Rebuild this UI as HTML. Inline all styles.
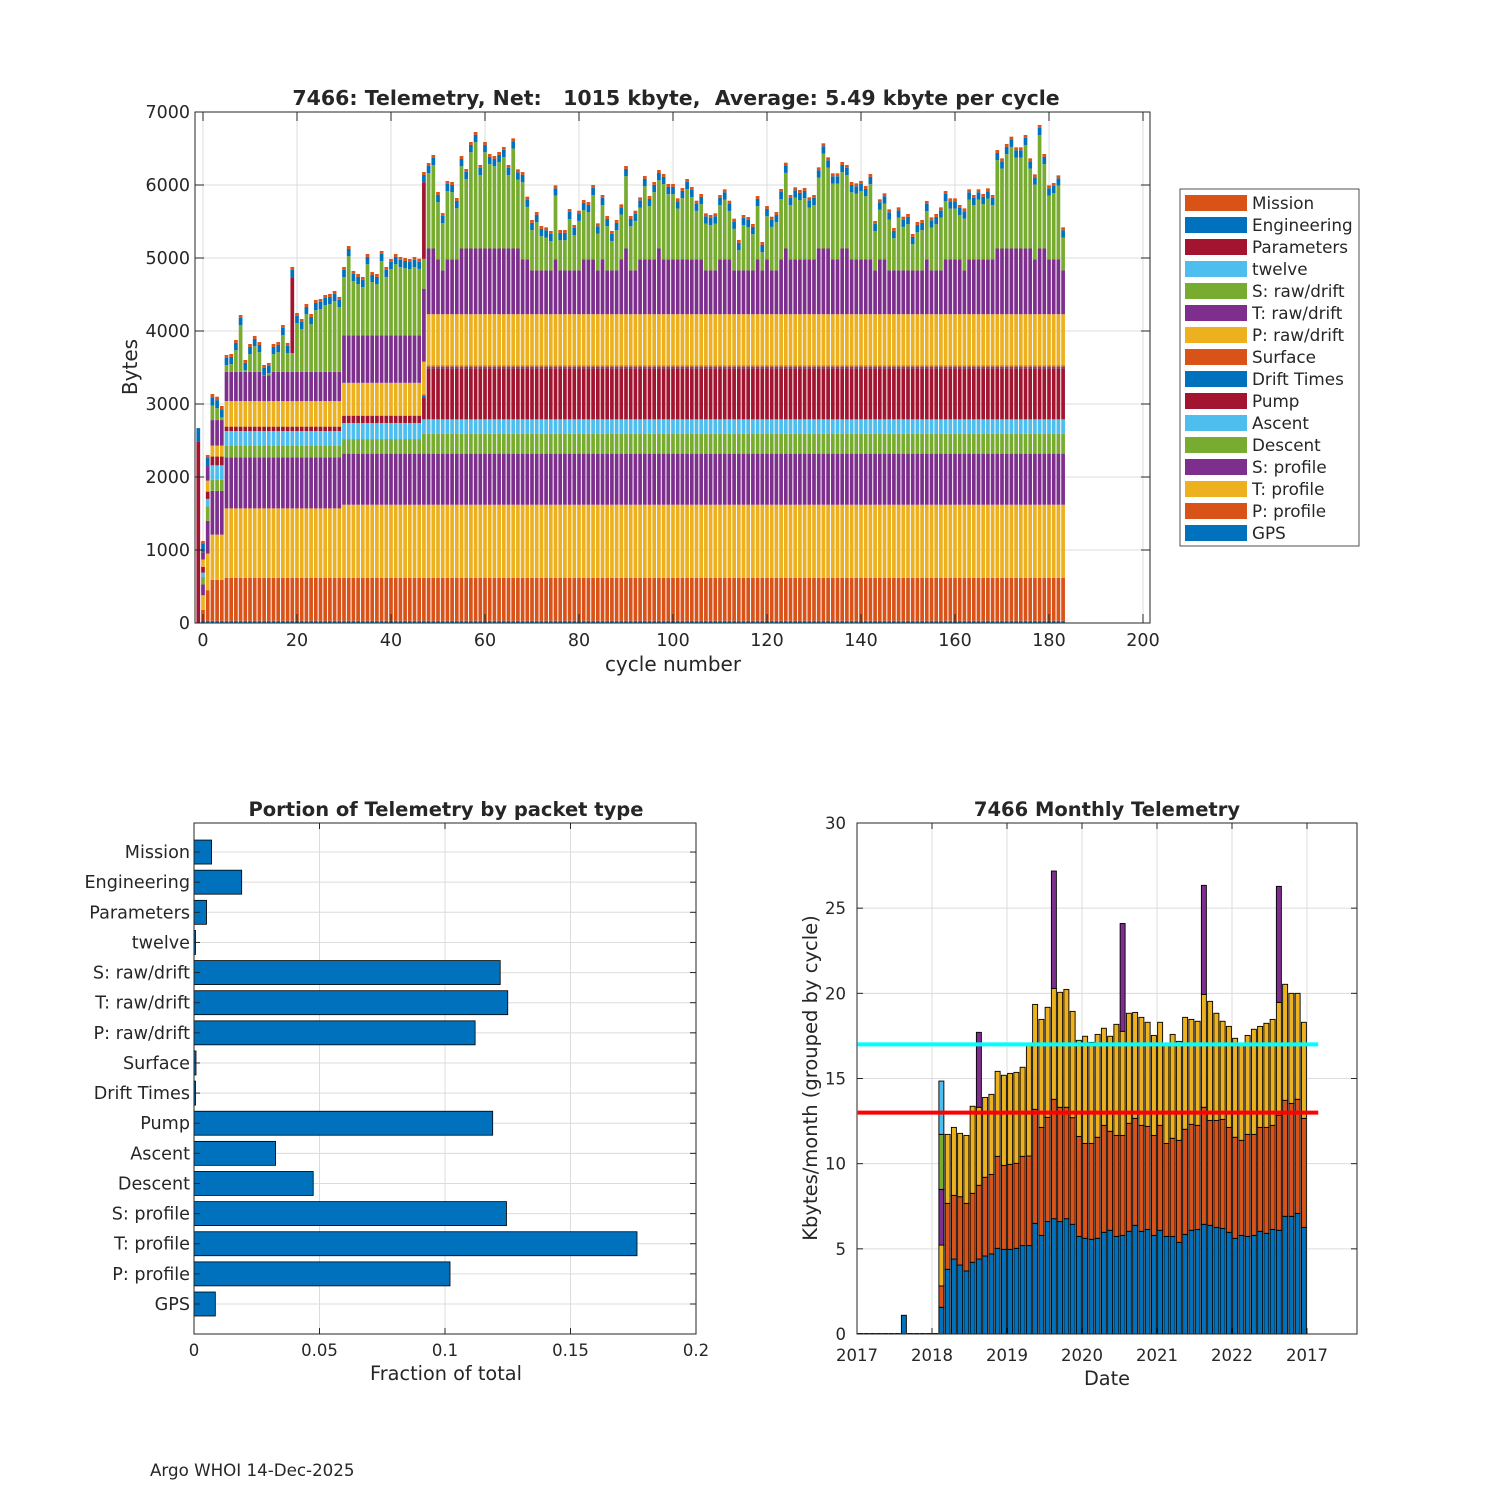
<!DOCTYPE html>
<html><head><meta charset="utf-8">
<style>
body{margin:0;background:#fff}
svg{display:block;font-family:"DejaVu Sans","Liberation Sans",sans-serif}
text{fill:#262626}
</style></head>
<body>
<svg id="fig" width="1500" height="1500" viewBox="0 0 1500 1500">
<rect width="1500" height="1500" fill="#fff"/>
<g id="top"></g>
<g id="bl"></g>
<g id="br"></g>
<text x="150" y="1476" font-size="16.7">Argo WHOI 14-Dec-2025</text>
</svg>
<script>
// ===== Top chart data (index 0 = cycle -1 ... index 184 = cycle 183) =====
const cycles = Array.from({length:185},(_,i)=>i-1);
const gps = [0,30,30,30,30,30,30,30,30,30,
30,30,30,30,30,30,30,30,30,30,
30,30,30,30,30,30,30,30,30,30,
30,30,30,30,30,30,30,30,30,30,
30,30,30,30,30,30,30,30,30,30,
30,30,30,30,30,30,30,30,30,30,
30,30,30,30,30,30,30,30,30,30,
30,30,30,30,30,30,30,30,30,30,
30,30,30,30,30,30,30,30,30,30,
30,30,30,30,30,30,30,30,30,30,
30,30,30,30,30,30,30,30,30,30,
30,30,30,30,30,30,30,30,30,30,
30,30,30,30,30,30,30,30,30,30,
30,30,30,30,30,30,30,30,30,30,
30,30,30,30,30,30,30,30,30,30,
30,30,30,30,30,30,30,30,30,30,
30,30,30,30,30,30,30,30,30,30,
30,30,30,30,30,30,30,30,30,30,
30,30,30,30,30];
const pProf = [0,150,420,560,560,560,
590,590,590,590,590,590,590,590,590,590,590,590,590,590,590,590,590,590,590,590,590,590,590,590,
590,590,590,590,590,590,590,590,590,590,590,590,590,590,590,590,590,590,590,590,590,590,590,590,
590,590,590,590,590,590,590,590,590,590,590,590,590,590,590,590,590,590,590,590,590,590,590,590,
590,590,590,590,590,590,590,590,590,590,590,590,590,590,590,590,590,590,590,590,590,590,590,590,
590,590,590,590,590,590,590,590,590,590,590,590,590,590,590,590,590,590,590,590,590,590,590,590,
590,590,590,590,590,590,590,590,590,590,590,590,590,590,590,590,590,590,590,590,590,590,590,590,
590,590,590,590,590,590,590,590,590,590,590,590,590,590,590,590,590,590,590,590,590,590,590,590,
590,590,590,590,590,590,590,590,590,590,590];
const tProf = [0,200,500,620,620,620,
950,950,950,950,950,950,950,950,950,950,950,950,950,950,950,950,950,950,950,950,950,950,950,950,950,
1000,1000,1000,1000,1000,1000,1000,1000,1000,1000,1000,1000,1000,1000,1000,1000,1000,1000,1000,1000,
1000,1000,1000,1000,1000,1000,1000,1000,1000,1000,1000,1000,1000,1000,1000,1000,1000,1000,1000,1000,
1000,1000,1000,1000,1000,1000,1000,1000,1000,1000,1000,1000,1000,1000,1000,1000,1000,1000,1000,1000,
1000,1000,1000,1000,1000,1000,1000,1000,1000,1000,1000,1000,1000,1000,1000,1000,1000,1000,1000,1000,
1000,1000,1000,1000,1000,1000,1000,1000,1000,1000,1000,1000,1000,1000,1000,1000,1000,1000,1000,1000,
1000,1000,1000,1000,1000,1000,1000,1000,1000,1000,1000,1000,1000,1000,1000,1000,1000,1000,1000,1000,
1000,1000,1000,1000,1000,1000,1000,1000,1000,1000,1000,1000,1000,1000,1000,1000,1000,1000,1000,1000,
1000,1000,1000,1000,1000,1000,1000,1000,1000,1000,1000,1000,1000,1000];
const sProf = [0,150,450,600,600,600,
700,700,700,700,700,700,700,700,700,700,700,700,700,700,700,700,700,700,700,700,700,700,700,700,
700,700,700,700,700,700,700,700,700,700,700,700,700,700,700,700,700,700,700,700,700,700,700,700,
700,700,700,700,700,700,700,700,700,700,700,700,700,700,700,700,700,700,700,700,700,700,700,700,
700,700,700,700,700,700,700,700,700,700,700,700,700,700,700,700,700,700,700,700,700,700,700,700,
700,700,700,700,700,700,700,700,700,700,700,700,700,700,700,700,700,700,700,700,700,700,700,700,
700,700,700,700,700,700,700,700,700,700,700,700,700,700,700,700,700,700,700,700,700,700,700,700,
700,700,700,700,700,700,700,700,700,700,700,700,700,700,700,700,700,700,700,700,700,700,700,700,
700,700,700,700,700,700,700,700,700,700,700];
const descent = [0,100,200,150,150,150,
160,160,160,160,160,160,160,160,160,160,160,160,160,160,160,160,160,160,160,160,160,160,160,160,160,
200,200,200,200,200,200,200,200,200,200,200,200,200,200,200,200,200,
270,270,270,270,270,270,270,270,270,270,270,270,270,270,270,270,270,270,270,270,
270,270,270,270,270,270,270,270,270,270,270,270,270,270,270,270,270,270,270,270,
270,270,270,270,270,270,270,270,270,270,270,270,270,270,270,270,270,270,270,270,
270,270,270,270,270,270,270,270,270,270,270,270,270,270,270,270,270,270,270,270,
270,270,270,270,270,270,270,270,270,270,270,270,270,270,270,270,270,270,270,270,
270,270,270,270,270,270,270,270,270,270,270,270,270,270,270,270,270,270,270,270,
270,270,270,270,270,270,270,270,270,270,270,270,270,270,270,270,270];
const ascent = [0,60,100,200,200,200,
200,200,200,200,200,200,200,200,200,200,200,200,200,200,200,200,200,200,200,200,200,200,200,200,200,
220,220,220,220,220,220,220,220,220,220,220,220,220,220,220,220,220,
200,200,200,200,200,200,200,200,200,200,200,200,200,200,200,200,200,200,200,200,
200,200,200,200,200,200,200,200,200,200,200,200,200,200,200,200,200,200,200,200,
200,200,200,200,200,200,200,200,200,200,200,200,200,200,200,200,200,200,200,200,
200,200,200,200,200,200,200,200,200,200,200,200,200,200,200,200,200,200,200,200,
200,200,200,200,200,200,200,200,200,200,200,200,200,200,200,200,200,200,200,200,
200,200,200,200,200,200,200,200,200,200,200,200,200,200,200,200,200,200,200,200,
200,200,200,200,200,200,200,200,200,200,200,200,200,200,200,200,200];
const pump = [0,80,100,120,120,120,
60,60,60,60,60,60,60,60,60,60,60,60,60,60,60,60,60,60,60,60,60,60,60,60,60,
100,100,100,100,100,100,100,100,100,100,100,100,100,100,100,100,100,
300,
700,700,700,700,700,700,700,700,700,700,700,700,700,700,700,700,700,700,700,700,
700,700,700,700,700,700,700,700,700,700,700,700,700,700,700,700,700,700,700,700,
700,700,700,700,700,700,700,700,700,700,700,700,700,700,700,700,700,700,700,700,
700,700,700,700,700,700,700,700,700,700,700,700,700,700,700,700,700,700,700,700,
700,700,700,700,700,700,700,700,700,700,700,700,700,700,700,700,700,700,700,700,
700,700,700,700,700,700,700,700,700,700,700,700,700,700,700,700,700,700,700,700,
700,700,700,700,700,700,700,700,700,700,700,700,700,700,700,700];
const driftTimes = [0,0,0,0,0,0,0,0,0,0,0,0,0,0,0,0,0,0,0,0,0,0,0,0,0,0,0,0,0,0,
0,0,0,0,0,0,0,0,0,0,0,0,0,0,0,0,0,0,
20,20,20,20,20,20,20,20,20,20,20,20,20,20,20,20,20,20,20,20,
20,20,20,20,20,20,20,20,20,20,20,20,20,20,20,20,20,20,20,20,
20,20,20,20,20,20,20,20,20,20,20,20,20,20,20,20,20,20,20,20,
20,20,20,20,20,20,20,20,20,20,20,20,20,20,20,20,20,20,20,20,
20,20,20,20,20,20,20,20,20,20,20,20,20,20,20,20,20,20,20,20,
20,20,20,20,20,20,20,20,20,20,20,20,20,20,20,20,20,20,20,20,
20,20,20,20,20,20,20,20,20,20,20,20,20,20,20,20,20];
const surface = [0,0,0,0,0,0,0,0,0,0,0,0,0,0,0,0,0,0,0,0,0,0,0,0,0,0,0,0,0,0,
0,0,0,0,0,0,0,0,0,0,0,0,0,0,0,0,0,0,
20,20,20,20,20,20,20,20,20,20,20,20,20,20,20,20,20,20,20,20,
20,20,20,20,20,20,20,20,20,20,20,20,20,20,20,20,20,20,20,20,
20,20,20,20,20,20,20,20,20,20,20,20,20,20,20,20,20,20,20,20,
20,20,20,20,20,20,20,20,20,20,20,20,20,20,20,20,20,20,20,20,
20,20,20,20,20,20,20,20,20,20,20,20,20,20,20,20,20,20,20,20,
20,20,20,20,20,20,20,20,20,20,20,20,20,20,20,20,20,20,20,20,
20,20,20,20,20,20,20,20,20,20,20,20,20,20,20,20,20];
const pRaw = [0,100,150,150,150,150,
350,350,350,350,350,350,350,350,350,350,350,350,350,350,350,350,350,350,350,350,350,350,350,350,350,
450,450,450,450,450,450,450,450,450,450,450,450,450,450,450,450,450,
450,
700,700,700,700,700,700,700,700,700,700,700,700,700,700,700,700,700,700,700,700,
700,700,700,700,700,700,700,700,700,700,700,700,700,700,700,700,700,700,700,700,
700,700,700,700,700,700,700,700,700,700,700,700,700,700,700,700,700,700,700,700,
700,700,700,700,700,700,700,700,700,700,700,700,700,700,700,700,700,700,700,700,
700,700,700,700,700,700,700,700,700,700,700,700,700,700,700,700,700,700,700,700,
700,700,700,700,700,700,700,700,700,700,700,700,700,700,700,700,700,700,700,700,
700,700,700,700,700,700,700,700,700,700,700,700,700,700,700,700];
const tRaw = [0,100,200,350,350,350,
400,400,400,400,400,400,400,400,350,350,400,400,400,400,400,400,400,400,400,400,400,400,400,400,400,
650,650,650,650,650,650,650,650,650,650,650,650,650,650,650,650,650,
1000,
900,900,750,600,750,750,750,900,900,900,
900,900,900,900,900,900,900,900,900,900,
750,750,600,600,600,600,600,750,600,600,
600,600,600,750,750,750,600,750,600,600,
600,750,900,600,600,750,750,750,750,900,
750,750,750,750,750,750,750,750,750,600,
600,600,750,750,750,600,600,600,600,600,
750,600,750,600,600,750,900,750,750,750,
750,750,750,900,900,900,750,750,900,900,
750,750,750,750,750,600,750,750,600,600,
600,600,600,600,600,600,750,600,600,600,
750,750,750,750,600,750,750,750,750,750,
750,900,900,900,900,900,900,900,900,750,
900,900,750,750,750,600];
const sRaw = [0,0,0,200,163,36,
91,105,297,639,23,242,352,269,4,32,242,269,502,256,257,667,584,790,653,845,858,913,927,968,886,
797,1084,742,701,660,975,728,701,1016,797,906,975,934,920,906,934,910,
408,
1031,1141,784,646,935,921,702,1127,949,1319,
1456,1004,1319,1155,1127,1182,1251,1004,1369,945,
1058,720,551,660,468,450,400,875,414,414,
701,482,678,675,647,880,505,743,605,400,
551,615,990,605,678,711,1003,729,921,935,
1031,894,894,697,839,962,853,665,757,642,
619,642,743,821,665,569,277,619,591,496,
729,249,592,596,660,825,1036,743,848,812,
839,711,743,972,1301,1109,1040,1040,1045,1004,
921,903,935,866,1031,537,684,766,697,441,
724,596,633,359,523,551,661,587,633,724,
798,697,697,606,710,821,743,821,757,834,
743,1209,1095,1292,1392,1246,1246,1415,1095,1026,
1552,1155,875,907,1012,450];
const twelve = [0,0,0,0,0,0,0,0,0,0,0,0,0,0,0,0,0,0,0,0,0,0,0,0,0,0,0,0,0,0,0,0,0,0,0,0,0,0,0,0,
0,0,0,0,0,0,0,0,0,0,0,0,0,0,0,0,0,0,0,0,0,0,0,0,0,0,0,0,0,0,0,0,0,0,0,0,0,0,0,0,
0,0,0,0,0,0,0,0,0,0,0,0,0,0,0,0,0,0,0,0,0,0,0,0,0,0,0,0,0,0,0,0,0,0,0,0,0,0,0,0,
0,0,0,0,0,0,0,0,0,0,0,0,0,0,0,0,0,0,0,0,0,0,0,0,0,0,0,0,0,0,0,0,0,0,0,0,0,0,0,0,
0,0,0,0,0,0,0,0,0,0,0,0,0,0,0,0,0,0,0,0,0,0,0,0,0];
const params = [2480,0,0,0,0,0,0,0,0,0,0,0,0,0,0,0,0,0,0,0,1040,
0,0,0,0,0,0,0,0,0,0,0,0,0,0,0,0,0,0,0,0,0,0,0,0,0,0,0,1050,
0,0,0,0,0,0,0,0,0,0,0,0,0,0,0,0,0,0,0,0,0,0,0,0,0,0,0,0,0,0,0,0,0,0,0,0,0,0,0,0,
0,0,0,0,0,0,0,0,0,0,0,0,0,0,0,0,0,0,0,0,0,0,0,0,0,0,0,0,0,0,0,0,0,0,0,0,0,0,0,0,
0,0,0,0,0,0,0,0,0,0,0,0,0,0,0,0,0,0,0,0,0,0,0,0,0,0,0,0,0,0,0,0,0,0,0,0,0,0,0,0,
0,0,0,0,0,0,0,0,0,0,0,0,0,0,0,0];
const engineering = [190,120,110,110,110,110,
100,100,100,100,100,100,100,100,100,100,100,100,100,100,100,100,100,100,100,100,100,100,100,100,
100,100,100,100,100,100,100,100,100,100,100,100,100,100,100,100,100,100,100,100,100,100,100,100,
100,100,100,100,100,100,100,100,100,100,100,100,100,100,100,100,100,100,100,100,100,100,100,100,
100,100,100,100,100,100,100,100,100,100,100,100,100,100,100,100,100,100,100,100,100,100,100,100,
100,100,100,100,100,100,100,100,100,100,100,100,100,100,100,100,100,100,100,100,100,100,100,100,
100,100,100,100,100,100,100,100,100,100,100,100,100,100,100,100,100,100,100,100,100,100,100,100,
100,100,100,100,100,100,100,100,100,100,100,100,100,100,100,100,100,100,100,100,100,100,100,100,
100,100,100,100,100,100,100,100,100,100,100];
const mission = [0,33,41,47,47,47,
40,40,40,40,40,40,40,40,40,40,40,40,40,40,40,40,40,40,40,40,40,40,40,40,
40,40,40,40,40,40,40,40,40,40,40,40,40,40,40,40,40,40,40,40,40,40,40,40,
40,40,40,40,40,40,40,40,40,40,40,40,40,40,40,40,40,40,40,40,40,40,40,40,
40,40,40,40,40,40,40,40,40,40,40,40,40,40,40,40,40,40,40,40,40,40,40,40,
40,40,40,40,40,40,40,40,40,40,40,40,40,40,40,40,40,40,40,40,40,40,40,40,
40,40,40,40,40,40,40,40,40,40,40,40,40,40,40,40,40,40,40,40,40,40,40,40,
40,40,40,40,40,40,40,40,40,40,40,40,40,40,40,40,40,40,40,40,40,40,40,40,
40,40,40,40,40,40,40,40,40,40,40];
const xTicksTop = [0,20,40,60,80,100,120,140,160,180,200];
const yTicksTop = [0,1000,2000,3000,4000,5000,6000,7000];

// ===== Bottom-left data =====
const packetLabels = ["GPS","P: profile","T: profile","S: profile","Descent","Ascent","Pump","Drift Times","Surface","P: raw/drift","T: raw/drift","S: raw/drift","twelve","Parameters","Engineering","Mission"];
const packetFractions = [0.0085,0.102,0.1765,0.1245,0.0475,0.0325,0.119,0.0006,0.0008,0.112,0.125,0.122,0.0006,0.005,0.019,0.007];
const xTicksBL = [0,0.05,0.1,0.15,0.2];
const xTickLabelsBL = ["0","0.05","0.1","0.15","0.2"];

// ===== Bottom-right data (month index 0 = Jan 2017) =====
const monthIdx = Array.from({length:72},(_,i)=>i);
const mc1 = [0.03,0.03,0.03,0.03,0.03,0.03,0.03,1.1,0.03,0.03,0.03,0.03,0.03,1.57,
3.80,4.40,4.05,3.70,4.21,4.40,4.58,4.70,5.03,4.97,4.97,5.03,5.19,5.19,6.50,5.79,6.60,6.77,6.60,6.77,6.44,5.73,
5.62,5.56,5.62,5.97,6.09,5.73,5.79,6.03,6.38,6.03,6.14,5.79,6.09,5.73,5.73,5.38,5.85,6.09,6.14,6.44,
6.38,6.26,6.20,5.97,5.62,5.79,5.73,5.79,6.03,5.91,6.14,6.09,6.91,6.91,7.08,6.26];
const mc2 = [0,0,0,0,0,0,0,0,0,0,0,0,0,1.25,
3.87,3.74,4.01,3.97,4.05,4.33,4.62,4.67,5.40,4.93,4.99,4.99,5.24,5.26,6.69,6.34,6.12,7.01,6.71,6.54,6.26,5.87,
5.57,5.63,5.93,6.28,5.81,5.93,5.87,6.34,6.28,6.22,6.05,5.87,6.16,5.46,5.76,5.99,6.17,6.22,6.11,6.87,
6.16,6.28,6.40,6.16,5.93,5.58,5.99,5.93,6.10,6.22,6.11,6.75,6.81,6.63,6.70,6.40];
const mc3 = [0,0,0,0,0,0,0,0,0,0,0,0,0,2.40,
4.05,3.99,3.72,3.99,5.11,4.58,4.69,4.70,4.99,5.29,5.34,5.34,5.23,6.50,6.16,6.34,6.46,6.51,6.75,6.92,6.24,5.64,
6.29,5.93,6.04,5.70,5.58,6.52,6.11,6.46,6.22,6.34,6.11,5.87,6.05,5.81,6.10,5.81,6.57,6.16,6.11,6.63,
6.99,6.29,5.76,5.93,5.81,5.63,5.81,6.17,5.93,6.11,6.22,6.63,6.81,6.46,6.22,5.64];
const mc4 = [0,0,0,0,0,0,0,0,0,0,0,0,0,3.27,
0,0,0,0,0,4.40,0,0,0,0,0,0,0,0,0,0,0,6.89,0,0,0,0,
0,0,0,0,0,0,6.33,0,0,0,0,0,0,0,0,0,0,0,0,6.40,
0,0,0,0,0,0,0,0,0,0,0,6.81,0,0,0,0];
const mc5 = [0,0,0,0,0,0,0,0,0,0,0,0,0,3.23,0,0,0,0,0,0,0,0,0,0,0,0,0,0,0,0,0,0,0,0,0,0,
0,0,0,0,0,0,0,0,0,0,0,0,0,0,0,0,0,0,0,0,0,0,0,0,0,0,0,0,0,0,0,0,0,0,0,0];
const mc6 = [0,0,0,0,0,0,0,0,0,0,0,0,0,3.13,0,0,0,0,0,0,0,0,0,0,0,0,0,0,0,0,0,0,0,0,0,0,
0,0,0,0,0,0,0,0,0,0,0,0,0,0,0,0,0,0,0,0,0,0,0,0,0,0,0,0,0,0,0,0,0,0,0,0];
const refLevels = [17,13];
const yearTicks = [2017,2018,2019,2020,2021,2022,2023];
const yearTickLabels = ["2017","2018","2019","2020","2021","2022","2017"];
const yTicksBR = [0,5,10,15,20,25,30];

const NS='http://www.w3.org/2000/svg';
function mk(tag,parent,attrs,name){
  const el=document.createElementNS(NS,tag);
  for(const k in attrs) el.setAttribute(k,attrs[k]);
  
  
  parent.appendChild(el);
  return el;
}
function txt(parent,x,y,s,size,anchor,name,extra){
  const t=mk('text',parent,Object.assign({x:x,y:y,'font-size':size,'text-anchor':anchor||'start'},extra||{}),name);
  t.textContent=s;return t;
}
const C={blue:'#0072BD',orange:'#D95319',yellow:'#EDB120',purple:'#7E2F8E',green:'#77AC30',cyan:'#4DBEEE',red:'#A2142F'};

// ===== TOP CHART =====
(function(){
  const g=document.getElementById('top');
  const L=195,R=1150,T=112,B=623;
  const xS=c=>203+4.7*c, yS=v=>B-v*(B-T)/7000;
  mk('rect',g,{x:L,y:T,width:R-L,height:B-T,fill:'#fff'},'plot-area');
  xTicksTop.forEach(t=>mk('line',g,{x1:xS(t),x2:xS(t),y1:T,y2:B,stroke:'#dcdcdc','stroke-width':1},'x-gridline'));
  yTicksTop.forEach(t=>mk('line',g,{x1:L,x2:R,y1:yS(t),y2:yS(t),stroke:'#dcdcdc','stroke-width':1},'y-gridline'));
  const series=[
    {n:'GPS',v:gps,c:C.blue},{n:'P: profile',v:pProf,c:C.orange},{n:'T: profile',v:tProf,c:C.yellow},
    {n:'S: profile',v:sProf,c:C.purple},{n:'Descent',v:descent,c:C.green},{n:'Ascent',v:ascent,c:C.cyan},
    {n:'Pump',v:pump,c:C.red},{n:'Drift Times',v:driftTimes,c:C.blue},{n:'Surface',v:surface,c:C.orange},
    {n:'P: raw/drift',v:pRaw,c:C.yellow},{n:'T: raw/drift',v:tRaw,c:C.purple},{n:'S: raw/drift',v:sRaw,c:C.green},
    {n:'twelve',v:twelve,c:C.cyan},{n:'Parameters',v:params,c:C.red},{n:'Engineering',v:engineering,c:C.blue},
    {n:'Mission',v:mission,c:C.orange}];
  const bw=3.7;
  cycles.forEach((cy,i)=>{
    let acc=0;
    series.forEach(s=>{
      const h=s.v[i]||0;
      if(h>0){
        const el=mk('rect',g,{x:xS(cy)-bw/2,y:yS(acc+h),width:bw,height:yS(acc)-yS(acc+h),fill:s.c},'bar-segment');
        
      }
      acc+=h;
    });
  });
  mk('rect',g,{x:L,y:T,width:R-L,height:B-T,fill:'none',stroke:'#262626','stroke-width':1},'axes-box');
  xTicksTop.forEach(t=>{
    mk('line',g,{x1:xS(t),x2:xS(t),y1:B,y2:B-9,stroke:'#262626'},'x-tick');
    mk('line',g,{x1:xS(t),x2:xS(t),y1:T,y2:T+9,stroke:'#262626'},'x-tick-top');
    txt(g,xS(t),646,String(t),17.5,'middle','x-tick-label');
  });
  yTicksTop.forEach(t=>{
    mk('line',g,{x1:L,x2:L+9,y1:yS(t),y2:yS(t),stroke:'#262626'},'y-tick');
    mk('line',g,{x1:R,x2:R-9,y1:yS(t),y2:yS(t),stroke:'#262626'},'y-tick-right');
    txt(g,190,yS(t)+6,String(t),17.5,'end','y-tick-label');
  });
  txt(g,673,671,'cycle number',20,'middle','x-axis-title');
  txt(g,137,367,'Bytes',20,'middle','y-axis-title',{transform:'rotate(-90 137 367)'});
  txt(g,676,105,'7466: Telemetry, Net:   1015 kbyte,  Average: 5.49 kbyte per cycle',20.5,'middle','chart-title',{'font-weight':'bold',style:'white-space:pre'});
  // legend
  const lg=mk('g',g,{},'legend');
  mk('rect',lg,{x:1180,y:189,width:179,height:357,fill:'#fff',stroke:'#262626','stroke-width':0.8},'legend-box');
  series.slice().reverse().forEach((s,k)=>{
    const cy=203+22*k;
    mk('rect',lg,{x:1185,y:cy-8,width:62,height:16,fill:s.c},'legend-swatch');
    txt(lg,1252,cy+6,s.n,16.8,'start','legend-entry');
  });
})();

// ===== BOTTOM LEFT =====
(function(){
  const g=document.getElementById('bl');
  const L=194,R=696,T=823,B=1334;
  const xS=f=>L+f*(R-L)/0.2, yS=k=>1304-(k-1)*30.13;
  xTicksBL.forEach(t=>mk('line',g,{x1:xS(t),x2:xS(t),y1:T,y2:B,stroke:'#dcdcdc'},'x-gridline'));
  packetLabels.forEach((l,i)=>mk('line',g,{x1:L,x2:R,y1:yS(i+1),y2:yS(i+1),stroke:'#dcdcdc'},'y-gridline'));
  packetFractions.forEach((f,i)=>{
    const el=mk('rect',g,{x:xS(0),y:yS(i+1)-12,width:xS(f)-xS(0),height:24,fill:C.blue,stroke:'#000','stroke-width':0.8},'bar');
    
  });
  mk('rect',g,{x:L,y:T,width:R-L,height:B-T,fill:'none',stroke:'#262626'},'axes-box');
  packetLabels.forEach((l,i)=>{
    mk('line',g,{x1:L,x2:L+6,y1:yS(i+1),y2:yS(i+1),stroke:'#262626'},'y-tick');
    mk('line',g,{x1:R,x2:R-6,y1:yS(i+1),y2:yS(i+1),stroke:'#262626'},'y-tick-right');
    txt(g,190,yS(i+1)+6,l,17.6,'end','category-label');
  });
  xTicksBL.forEach((t,i)=>{
    mk('line',g,{x1:xS(t),x2:xS(t),y1:B,y2:B-6,stroke:'#262626'},'x-tick');
    mk('line',g,{x1:xS(t),x2:xS(t),y1:T,y2:T+6,stroke:'#262626'},'x-tick-top');
    txt(g,xS(t),1356,xTickLabelsBL[i],16.5,'middle','x-tick-label');
  });
  txt(g,446,1380,'Fraction of total',19.3,'middle','x-axis-title');
  txt(g,446,816,'Portion of Telemetry by packet type',19.5,'middle','chart-title',{'font-weight':'bold'});
})();

// ===== BOTTOM RIGHT =====
(function(){
  const g=document.getElementById('br');
  const L=857,R=1357,T=823,B=1334;
  const xS=yr=>L+75*(yr-2017), yS=v=>B-v*(B-T)/30;
  yearTicks.forEach(t=>mk('line',g,{x1:xS(t),x2:xS(t),y1:T,y2:B,stroke:'#dcdcdc'},'x-gridline'));
  yTicksBR.forEach(t=>mk('line',g,{x1:L,x2:R,y1:yS(t),y2:yS(t),stroke:'#dcdcdc'},'y-gridline'));
  const ms=[{v:mc1,c:C.blue},{v:mc2,c:C.orange},{v:mc3,c:C.yellow},{v:mc4,c:C.purple},{v:mc5,c:C.green},{v:mc6,c:C.cyan}];
  const bw=5;
  monthIdx.forEach(m=>{
    const xc=xS(2017+(m+0.5)/12);
    let acc=0;
    ms.forEach((s,k)=>{
      const h=s.v[m]||0;
      if(h>0){
        const el=mk('rect',g,{x:xc-bw/2,y:yS(acc+h),width:bw,height:yS(acc)-yS(acc+h),fill:s.c,stroke:'#000','stroke-width':0.9},'month-bar');
        
      }
      acc+=h;
    });
  });
  const lineCols=['#00FFFF','#FF0000'];
  refLevels.forEach((lv,i)=>{
    const el=mk('line',g,{x1:xS(2017.01),x2:xS(2023.15),y1:yS(lv),y2:yS(lv),stroke:lineCols[i],'stroke-width':4},'reference-line');
    
  });
  mk('rect',g,{x:L,y:T,width:R-L,height:B-T,fill:'none',stroke:'#262626'},'axes-box');
  yearTicks.forEach((t,i)=>{
    mk('line',g,{x1:xS(t),x2:xS(t),y1:B,y2:B-6,stroke:'#262626'},'x-tick');
    mk('line',g,{x1:xS(t),x2:xS(t),y1:T,y2:T+6,stroke:'#262626'},'x-tick-top');
    txt(g,xS(t),1361,yearTickLabels[i],16.5,'middle','x-tick-label');
  });
  yTicksBR.forEach(t=>{
    mk('line',g,{x1:L,x2:L+6,y1:yS(t),y2:yS(t),stroke:'#262626'},'y-tick');
    mk('line',g,{x1:R,x2:R-6,y1:yS(t),y2:yS(t),stroke:'#262626'},'y-tick-right');
    txt(g,846,yS(t)+6,String(t),16.5,'end','y-tick-label');
  });
  txt(g,1107,1385,'Date',19.3,'middle','x-axis-title');
  txt(g,817,1078,'Kbytes/month (grouped by cycle)',19.5,'middle','y-axis-title',{transform:'rotate(-90 817 1078)'});
  txt(g,1107,816,'7466 Monthly Telemetry',19.5,'middle','chart-title',{'font-weight':'bold'});
})();
</script>
</body></html>
